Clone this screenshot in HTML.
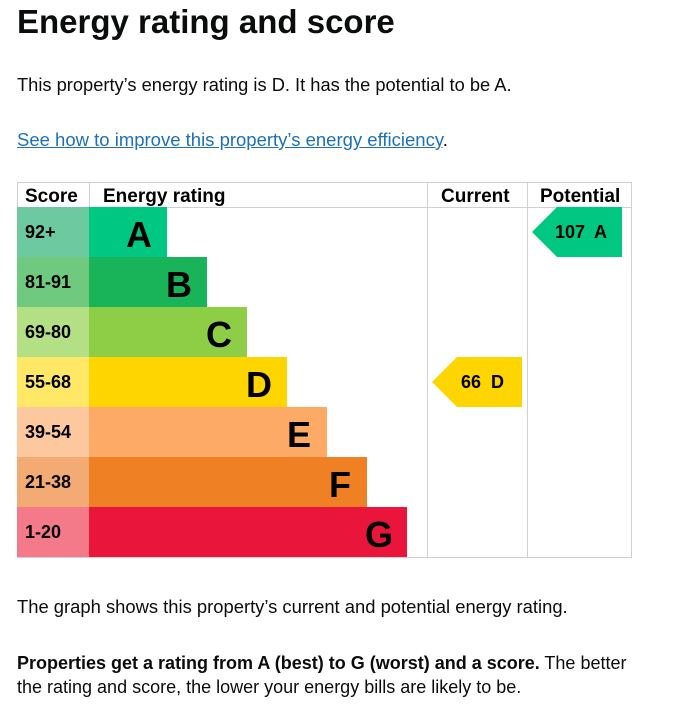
<!DOCTYPE html>
<html><head><style>
body{margin:0;background:#fff;font-family:"Liberation Sans",Arial,sans-serif;color:#0b0c0c;width:692px;height:714px;overflow:hidden;position:relative}
.a{position:absolute;white-space:nowrap}
</style></head><body>
<div class="a" style="left:17px;top:3px;font-size:33px;font-weight:bold;">Energy rating and score</div>
<div class="a" style="left:17px;top:74px;font-size:18.3px;">This property’s energy rating is D. It has the potential to be A.</div>
<div class="a" style="left:17px;top:129px;font-size:18.5px;"><span style="color:#1d70b8;text-decoration:underline;">See how to improve this property’s energy efficiency</span>.</div>
<svg class="a" style="left:0;top:0" width="692" height="714">
<g font-family="Liberation Sans,Arial,sans-serif" font-weight="bold">
<rect x="17.5" y="182.5" width="614" height="375" fill="none" stroke="#d0d0d0"/>
<line x1="17" y1="207.5" x2="632" y2="207.5" stroke="#d0d0d0"/>
<line x1="89.5" y1="182" x2="89.5" y2="207" stroke="#d0d0d0"/>
<line x1="427.5" y1="182" x2="427.5" y2="557" stroke="#d0d0d0"/>
<line x1="527.5" y1="182" x2="527.5" y2="557" stroke="#d0d0d0"/>
<text x="25" y="202" font-size="19">Score</text>
<text x="103" y="202" font-size="19">Energy rating</text>
<text x="441" y="202" font-size="19">Current</text>
<text x="540" y="202" font-size="19">Potential</text>
<rect x="17" y="207" width="72" height="50" fill="#6cc9a0"/><rect x="89" y="207" width="78" height="50" fill="#00c781"/>
<rect x="17" y="257" width="72" height="50" fill="#6fca7f"/><rect x="89" y="257" width="118" height="50" fill="#19b459"/>
<rect x="17" y="307" width="72" height="50" fill="#b3e085"/><rect x="89" y="307" width="158" height="50" fill="#8dce46"/>
<rect x="17" y="357" width="72" height="50" fill="#ffe866"/><rect x="89" y="357" width="198" height="50" fill="#ffd500"/>
<rect x="17" y="407" width="72" height="50" fill="#fdc89e"/><rect x="89" y="407" width="238" height="50" fill="#fcaa65"/>
<rect x="17" y="457" width="72" height="50" fill="#f4ab73"/><rect x="89" y="457" width="278" height="50" fill="#ef8023"/>
<rect x="17" y="507" width="72" height="50" fill="#f47a8a"/><rect x="89" y="507" width="318" height="50" fill="#e9153b"/>
<g font-size="18"><text x="25" y="238">92+</text><text x="25" y="288">81-91</text><text x="25" y="338">69-80</text><text x="25" y="388">55-68</text><text x="25" y="438">39-54</text><text x="25" y="488">21-38</text><text x="25" y="538">1-20</text></g>
<g font-size="36" text-anchor="end"><text x="152" y="247">A</text><text x="192" y="297">B</text><text x="232" y="347">C</text><text x="272" y="397">D</text><text x="311" y="447">E</text><text x="351" y="497">F</text><text x="393" y="547">G</text></g>
<polygon points="532,232 557,207 622,207 622,257 557,257" fill="#00c781"/>
<text x="555" y="238" font-size="18">107<tspan x="594">A</tspan></text>
<polygon points="432,382 457,357 522,357 522,407 457,407" fill="#ffd500"/>
<text x="461" y="388" font-size="18">66<tspan x="491">D</tspan></text>
</g></svg>
<div class="a" style="left:17px;top:596px;font-size:18.4px;">The graph shows this property’s current and potential energy rating.</div>
<div class="a" style="left:17px;top:651px;font-size:18px;line-height:24px;">
<b>Properties get a rating from A (best) to G (worst) and a score.</b> The better<br>the rating and score, the lower your energy bills are likely to be.</div>
</body></html>
